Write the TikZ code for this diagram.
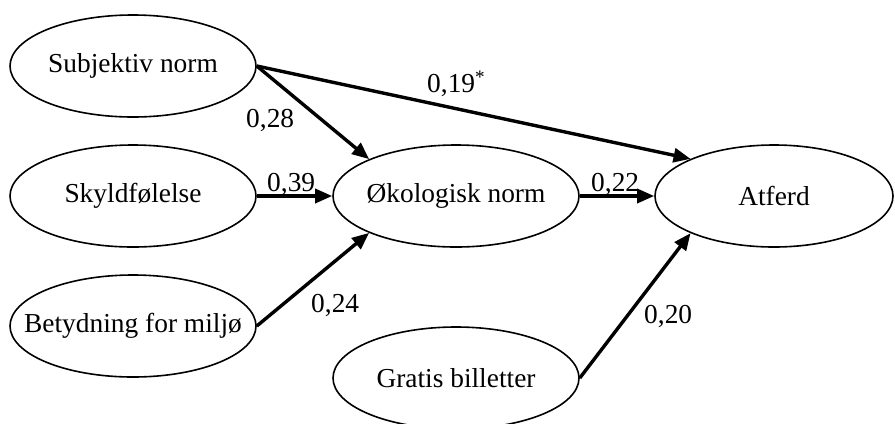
\documentclass[tikz,border=0pt]{standalone}
\usepackage{fontspec}
\setmainfont{Liberation Serif}
\usetikzlibrary{shapes.geometric,arrows.meta}
\begin{document}
\begin{tikzpicture}[x=1bp,y=-1bp,
  el/.style={ellipse, draw, line width=1.6bp, minimum width=246bp, minimum height=102bp, inner xsep=-30bp, inner ysep=0pt, font=\fontsize{27.5}{31}\selectfont},
  arr/.style={line width=3.4bp, -{Triangle[length=17bp,width=14bp]}},
  lab/.style={font=\fontsize{27.5}{31}\selectfont, inner sep=0pt, anchor=base west}]
\useasboundingbox (0,0) rectangle (895,423);
\node[el] (sn) at (133,66) {Subjektiv norm};
\node[el] (sk) at (133,196) {Skyldfølelse};
\node[el] (bm) at (133,326) {Betydning for miljø};
\node[el] (on) at (456,196) {Økologisk norm};
\node[el, minimum width=238bp] (at) at (774,196) {Atferd};
\node[el] (gb) at (456,378) {Gratis billetter};
\draw[arr] (sn.east) -- (on.157);
\draw[arr] (sn.east) -- (at.156);
\draw[arr] (sk.east) -- (on.west);
\draw[arr] (on.east) -- (at.west);
\draw[arr] (bm.east) -- (on.-157);
\draw[arr] (gb.east) -- (at.-156);
\node[lab] (l28) at (246,127) {0,28};
\node[lab] (l19) at (427,92) {0,19\textsuperscript{*}};
\node[lab] (l39) at (267,191) {0,39};
\node[lab] (l22) at (591,191) {0,22};
\node[lab] (l24) at (311,312) {0,24};
\node[lab] (l20) at (644,323) {0,20};
\end{tikzpicture}
\end{document}
